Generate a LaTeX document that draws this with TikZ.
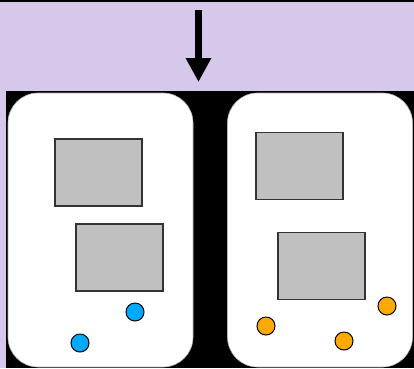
\documentclass[tikz,border=0pt]{standalone}
\usetikzlibrary{arrows.meta}
\definecolor{lavender}{HTML}{D6C8EB}
\definecolor{panelgray}{HTML}{C0C0C0}
\definecolor{dotblue}{HTML}{00AAFF}
\definecolor{dotorange}{HTML}{FFAA00}
\tikzset{
    card/.style={
        rectangle, rounded corners=30pt,
        draw=black!30, fill=white, line width=0.6pt,
        minimum width=185pt, minimum height=274pt, inner sep=0pt
    },
    panel/.style={
        rectangle, draw=black!80, fill=panelgray, line width=1.5pt,
        minimum width=87pt, minimum height=67pt, inner sep=0pt
    },
    bluedot/.style={
        circle, draw=black, fill=dotblue, line width=1pt,
        minimum size=18pt, inner sep=0pt
    },
    orangedot/.style={
        circle, draw=black, fill=dotorange, line width=1pt,
        minimum size=18pt, inner sep=0pt
    },
    bigarrow/.style={-{Triangle[width=24pt, length=24pt]}, line width=7pt, draw=black}
}
\begin{document}
\begin{tikzpicture}[x=1pt, y=-1pt]
    \useasboundingbox (0,0) rectangle (414,368);
    % background
    \fill[lavender] (0,0) rectangle (414,368);
    \fill[black] (0,0) rectangle (414,2);
    \fill[black] (6,91) rectangle (414,368);

    % left card
    \node[card] (cardl) at (100.5,230) {};
    \node[panel] (boxla) at (98.5,172.5) {};
    \node[panel] (boxlb) at (119.5,257.5) {};
    \node[bluedot] (dotla) at (135,312) {};
    \node[bluedot] (dotlb) at (80,343) {};

    % right card
    \node[card] (cardr) at (320,230) {};
    \node[panel] (boxra) at (299.5,166) {};
    \node[panel] (boxrb) at (321.5,266) {};
    \node[orangedot] (dotra) at (266,326) {};
    \node[orangedot] (dotrb) at (344,341) {};
    \node[orangedot] (dotrc) at (387,306) {};

    % arrow
    \coordinate (arrtop) at (198.5,10);
    \coordinate (arrtip) at (198.5,82);
    \draw[bigarrow] (arrtop) -- (arrtip);
\end{tikzpicture}
\end{document}
